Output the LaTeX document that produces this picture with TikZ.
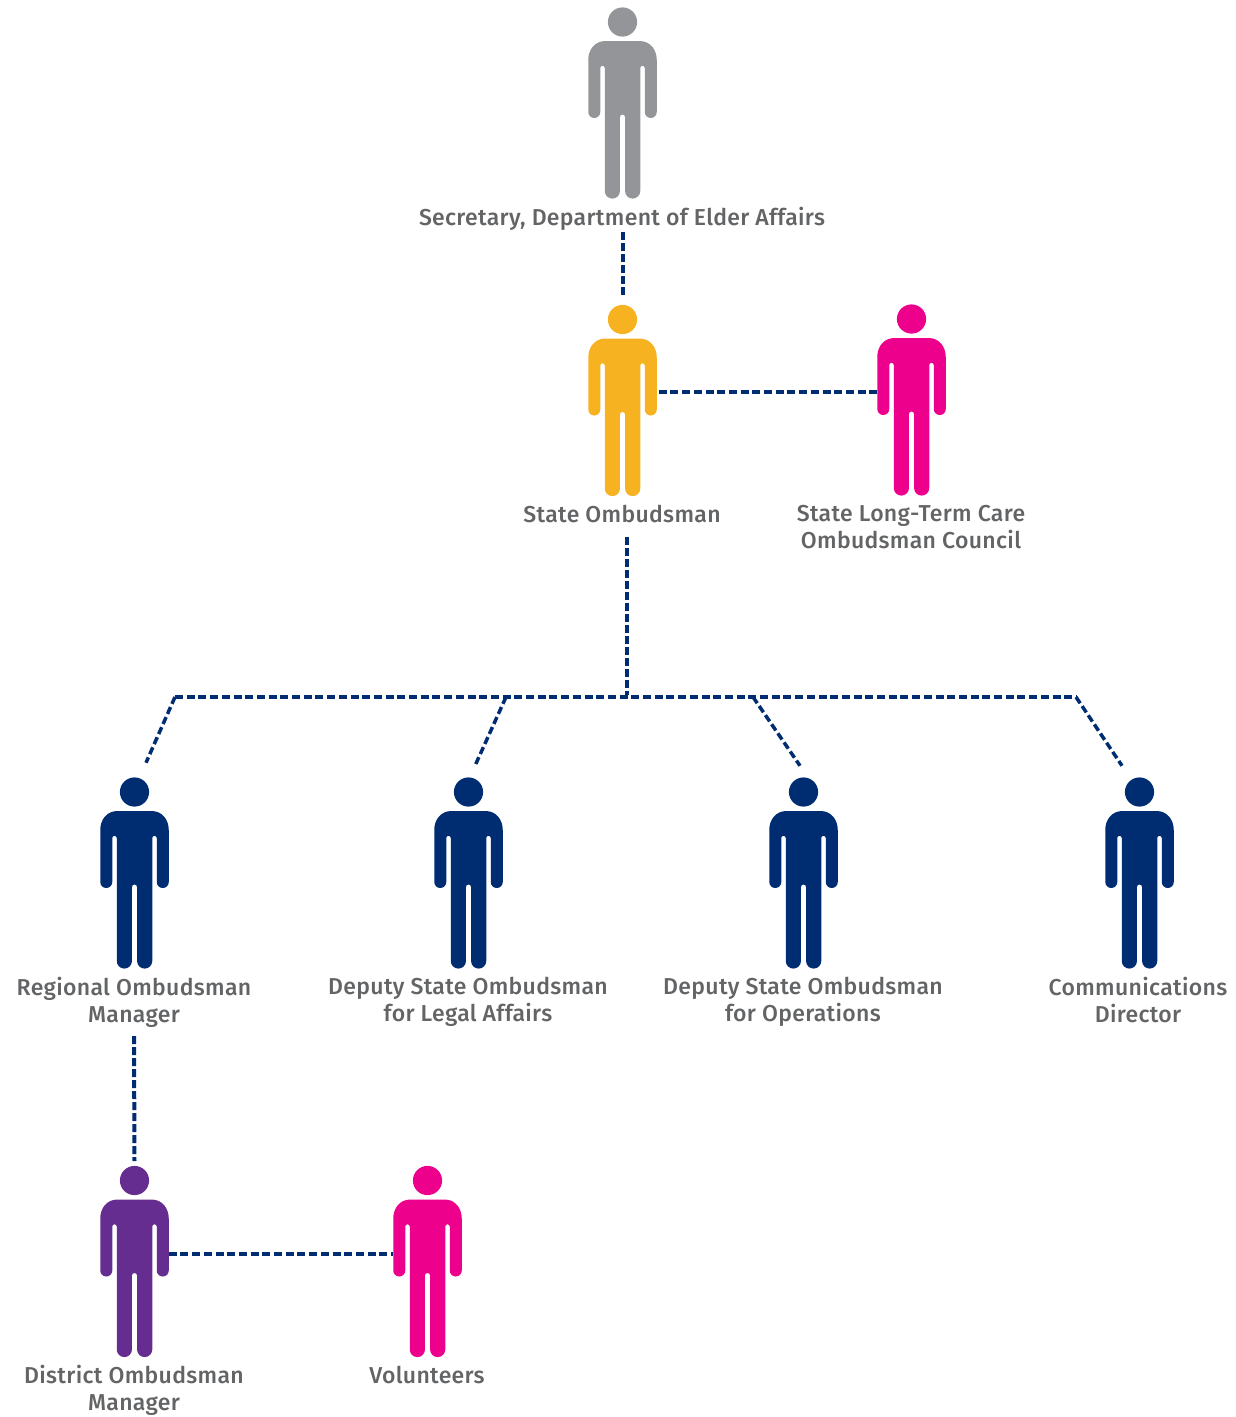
\documentclass[tikz,border=0pt]{standalone}
\usepackage{fontspec}
\setmainfont[LetterSpace=1.4]{Fira Sans Medium}
\definecolor{navy}{HTML}{002D72}
\definecolor{mgray}{HTML}{939598}
\definecolor{amber}{HTML}{F6B221}
\definecolor{mpink}{HTML}{EC008C}
\definecolor{mpurple}{HTML}{662D91}
\definecolor{txt}{HTML}{636466}
\tikzset{
  x=1pt,y=1pt,
  personbox/.style={inner sep=0pt,outer sep=0pt,minimum width=68.5pt,minimum height=191.5pt},
  lbl/.style={inner sep=0pt,outer sep=0pt,align=center,text=txt,font=\fontsize{23}{27}\selectfont},
  conn/.style={draw=navy,line width=4pt,dash pattern=on 8pt off 3.7pt},
  vconn/.style={draw=navy,line width=4pt,dash pattern=on 8pt off 3pt},
  diag/.style={draw=navy,line width=3.5pt,dash pattern=on 7.5pt off 3.5pt}
}
\newcommand{\person}[4]{% name, x, head y, colour
  \node[personbox] (#1) at (#2,-#3-81.25) {};
  \begin{scope}[shift={(#2,-#3)}]
    \fill[#4] (0,0) circle (14.6);
    \fill[#4] (-17,-19) -- (17,-19) .. controls (28,-19) and (34.25,-28) .. (34.25,-38)
      -- (34.25,-90) arc (0:-180:6) -- (22.25,-46) arc (0:180:2.25)
      -- (17.75,-169) arc (0:-180:7.6) -- (2.55,-95) arc (0:180:2.55)
      -- (-2.55,-169) arc (0:-180:7.6) -- (-17.75,-46) arc (0:180:2.25)
      -- (-22.25,-90) arc (0:-180:6) -- (-34.25,-38)
      .. controls (-34.25,-28) and (-28,-19) .. (-17,-19) -- cycle;
  \end{scope}}
\begin{document}
\begin{tikzpicture}
\useasboundingbox (0,0) rectangle (1235,-1417);
\person{sec}{622.5}{22}{mgray}
\person{state}{622.5}{319.5}{amber}
\person{council}{911.5}{319}{mpink}
\person{regional}{134.5}{792}{navy}
\person{legal}{468.5}{792}{navy}
\person{ops}{803.5}{792}{navy}
\person{comm}{1139.5}{792}{navy}
\person{district}{134.5}{1180.5}{mpurple}
\person{vol}{427.5}{1180.5}{mpink}

\node[lbl] (secl) at (622,-219) {Secretary, Department of Elder Affairs};
\node[lbl] (statel) at (622,-514) {State Ombudsman};
\node[lbl] (councill) at (911,-527) {State Long-Term Care\\Ombudsman Council};
\node[lbl] (regionall) at (134,-1002) {Regional Ombudsman\\Manager};
\node[lbl] (legall) at (468,-1002) {Deputy State Ombudsman\\for Legal Affairs};
\node[lbl] (opsl) at (803,-1002) {Deputy State Ombudsman\\for Operations};
\node[lbl] (comml) at (1138,-1000) {Communications\\Director};
\node[lbl] (districtl) at (134,-1390) {District Ombudsman\\Manager};
\node[lbl] (voll) at (427,-1375) {Volunteers};

\coordinate (trunk) at (627,-695);
\coordinate (a) at (175,-697);
\coordinate (b) at (506,-697);
\coordinate (c) at (753,-697);
\coordinate (d) at (1076,-697);

\draw[vconn] ([xshift=1pt,yshift=-13pt]secl.center) -- ([xshift=.5pt,yshift=7.75pt]state.north);
\draw[conn] ([xshift=2pt,yshift=8.75pt]state.east) -- ([yshift=8.25pt]council.west);
\draw[vconn] ([xshift=5pt,yshift=-23pt]statel.center) -- (trunk);
\draw[conn] (a) -- (d);
\draw[diag] (a) -- ([xshift=11.5pt,yshift=14.75pt]regional.north);
\draw[diag] (b) -- ([xshift=6.5pt,yshift=11.75pt]legal.north);
\draw[diag] (c) -- ([xshift=-3.5pt,yshift=11.75pt]ops.north);
\draw[diag] (d) -- ([xshift=-17.5pt,yshift=11.75pt]comm.north);
\draw[vconn] ([yshift=-34pt]regionall.center) -- ([yshift=5pt]district.north);
\draw[conn] ([yshift=8.25pt]district.east) -- ([yshift=8.25pt]vol.west);
\end{tikzpicture}
\end{document}
